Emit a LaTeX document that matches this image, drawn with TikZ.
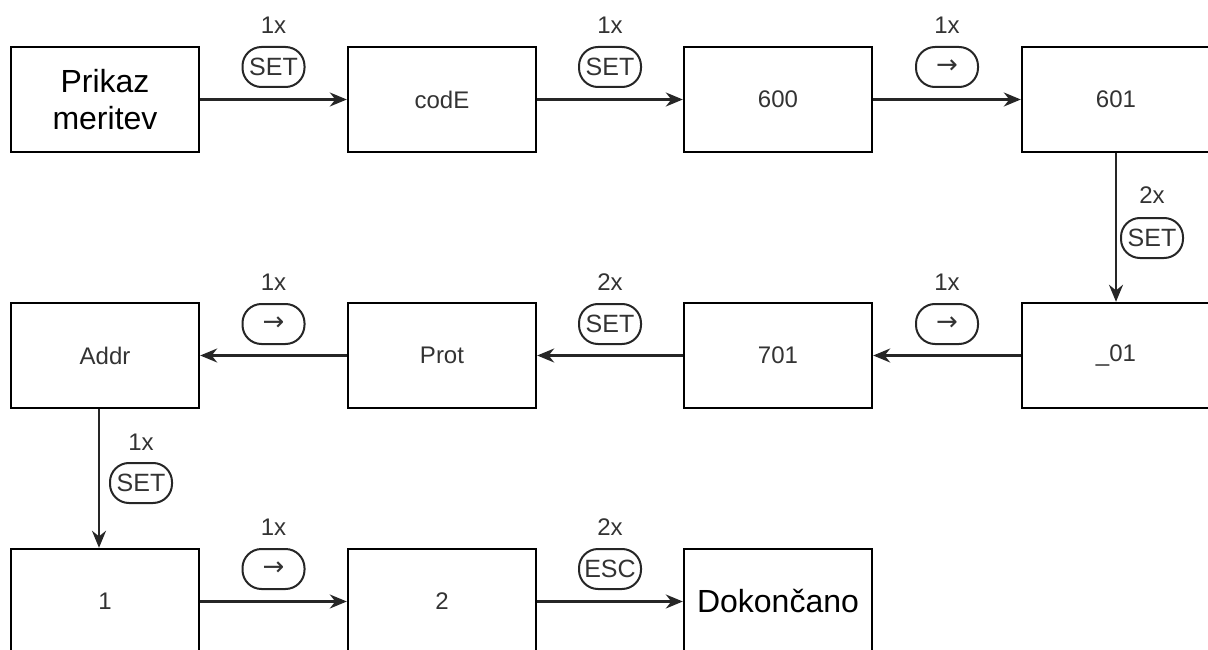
\documentclass[tikz,border=0pt]{standalone}
\usepackage{fontspec}
\setmainfont{Liberation Sans}
\newfontfamily\arrowfont{DejaVu Sans}
\usetikzlibrary{arrows.meta}
\definecolor{txtgray}{HTML}{333333}
\definecolor{linegray}{HTML}{262626}
\begin{document}
\begin{tikzpicture}[x=1pt,y=-1pt,
  box/.style={draw=black,line width=2.4pt,minimum width=188pt,minimum height=105pt,inner sep=0pt,
    font=\fontsize{24}{28}\selectfont,text=txtgray},
  bigbox/.style={box,font=\fontsize{32}{37}\selectfont,text=black,align=center},
  pill/.style={draw=linegray,line width=2pt,rounded corners=19pt,minimum width=62pt,minimum height=40pt,
    inner sep=0pt,font=\fontsize{25}{29}\selectfont,text=txtgray},
  cnt/.style={font=\fontsize{24}{28}\selectfont,text=txtgray,inner sep=0pt},
  arr/.style={font=\arrowfont\fontsize{26}{30}\selectfont},
  conn/.style={draw=linegray,line width=2.3pt,-{Stealth[length=17pt,width=14pt]}}
]
\useasboundingbox (0,0) rectangle (1208,650);
\clip (0,0) rectangle (1208,650);
% boxes
\node[bigbox] (pm) at (105,99.5) {Prikaz\\meritev};
\node[box] (code) at (442,99.5) {codE};
\node[box] (s600) at (778,99.5) {600};
\node[box] (s601) at (1116,99.5) {601};
\node[box] (u01) at (1116,355.5) {\_01};
\node[box] (s701) at (778,355.5) {701};
\node[box] (prot) at (442,355.5) {Prot};
\node[box] (addr) at (105,355.5) {Addr};
\node[box] (one) at (105,601.5) {1};
\node[box] (two) at (442,601.5) {2};
\node[bigbox] (done) at (778,601.5) {Dokončano};
% connectors
\draw[conn] (pm) -- (code);
\draw[conn] (code) -- (s600);
\draw[conn] (s600) -- (s601);
\draw[conn] (s601) -- (u01);
\draw[conn] (u01) -- (s701);
\draw[conn] (s701) -- (prot);
\draw[conn] (prot) -- (addr);
\draw[conn] ([xshift=-6pt]addr.south) -- ([xshift=-6pt]one.north);
\draw[conn] (one) -- (two);
\draw[conn] (two) -- (done);
% labels row 1
\node[cnt] (c1) at (273.5,25) {1x};
\node[pill] (p1) at (273.5,67) {SET};
\node[cnt] (c2) at (610,25) {1x};
\node[pill] (p2) at (610,67) {SET};
\node[cnt] (c3) at (947,25) {1x};
\node[pill,arr] (p3) at (947,67) {→};
% vertical 601 -> _01
\node[cnt] (c4) at (1152,195) {2x};
\node[pill] (p4) at (1152,238) {SET};
% labels row 2
\node[cnt] (c5) at (947,282) {1x};
\node[pill,arr] (p5) at (947,324) {→};
\node[cnt] (c6) at (610,282) {2x};
\node[pill] (p6) at (610,324) {SET};
\node[cnt] (c7) at (273.5,282) {1x};
\node[pill,arr] (p7) at (273.5,324) {→};
% vertical Addr -> 1
\node[cnt] (c8) at (141,442) {1x};
\node[pill] (p8) at (141,483) {SET};
% labels row 3
\node[cnt] (c9) at (273.5,527) {1x};
\node[pill,arr] (p9) at (273.5,569) {→};
\node[cnt] (c10) at (610,527) {2x};
\node[pill] (p10) at (610,569) {ESC};
\end{tikzpicture}
\end{document}
